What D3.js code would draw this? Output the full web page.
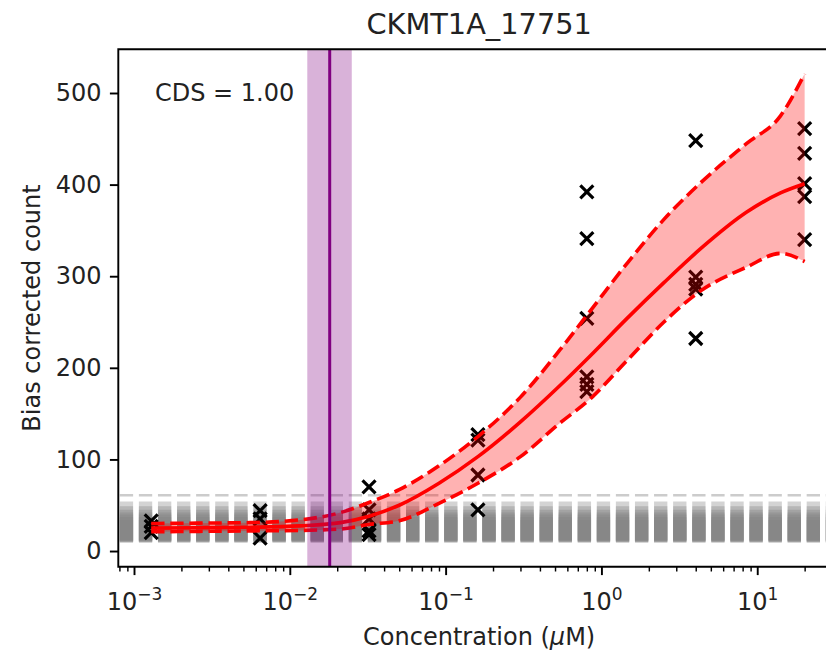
<!DOCTYPE html>
<html>
<head>
<meta charset="UTF-8">
<title>CKMT1A_17751</title>
<script src="https://cdn.jsdelivr.net/npm/d3@7"></script>
<style>
  body { margin: 0; background: #fff; }
  text { font-family: 'DejaVu Sans', sans-serif; }
</style>
</head>
<body>
<script>
  // measured points (concentration in uM, bias corrected count)
  const pointConc = [0.00128, 0.00128, 0.00128,
    0.0064, 0.0064, 0.0064,
    0.032, 0.032, 0.032, 0.032, 0.032,
    0.16, 0.16, 0.16, 0.16,
    0.8, 0.8, 0.8, 0.8, 0.8, 0.8,
    4, 4, 4, 4, 4,
    20, 20, 20, 20, 20]
  const pointCount = [33, 27, 20,
    44, 35, 14,
    70, 45, 35, 22, 18,
    127, 121, 83, 45,
    392, 341, 254, 190, 182, 174,
    448, 299, 291, 286, 232,
    461, 434, 401, 387, 340]

  // fitted curve and its band
  const fitConc = [0.00128, 0.0026, 0.0055, 0.0115, 0.021, 0.032, 0.05, 0.09, 0.16, 0.3, 0.54, 0.84, 1.45, 2.5, 4.3, 8.5, 14, 20]
  const fitMid  = [25, 25.5, 26, 27.5, 31, 38, 50, 74, 103, 141, 181, 213, 254, 293, 330, 370, 391, 401]
  const fitHigh = [30, 30.5, 31, 34, 42, 53, 67, 93, 125, 168, 220, 262, 314, 362, 402, 445, 475, 521]
  const fitLow  = [21, 21.5, 22, 22.5, 24, 29, 33, 52, 74, 103, 140, 166, 208, 250, 284, 310, 325, 316]

  // background noise quantile bands
  const noiseLow  = [9, 9.5, 10, 10.5, 11, 11.5, 12]
  const noiseHigh = [54, 49, 45, 42, 40, 37, 34]
  const noiseTop = 61

  // transition point
  const ec50 = 0.0179
  const ec50Low = 0.01285
  const ec50High = 0.0248

  const yTicks = [0, 100, 200, 300, 400, 500]
  const xTicks = [1e-3, 1e-2, 1e-1, 1, 10]

  const width = 826, height = 651
  const margin = { top: 49.3, right: -14, bottom: 84.3, left: 118.3 }
  const pt = 2.4

  const svg = d3.select('body').append('svg').attr('width', width).attr('height', height)

  const x = d3.scaleLog()
    .domain([Math.pow(10, -3.104), Math.pow(10, 1.528)])
    .range([margin.left, width - margin.right])
  const y = d3.scaleLinear()
    .domain([-17.1, 547.7])
    .range([height - margin.bottom, margin.top])

  const plot = svg.append('g')

  // noise columns (dashed lines, default matplotlib dash pattern)
  const dash = `${3.7 * 1.5 * pt},${1.6 * 1.5 * pt}`
  plot.append('g').selectAll('line')
    .data(noiseLow)
    .join('line')
    .attr('x1', margin.left + 1.5).attr('x2', width - margin.right)
    .attr('y1', (d, i) => (y(d) + y(noiseHigh[i])) / 2)
    .attr('y2', (d, i) => (y(d) + y(noiseHigh[i])) / 2)
    .attr('stroke', 'gray').attr('stroke-opacity', 0.35)
    .attr('stroke-width', (d, i) => y(d) - y(noiseHigh[i]))
    .attr('stroke-dasharray', dash)
  plot.append('line')
    .attr('x1', margin.left + 1.5).attr('x2', width - margin.right)
    .attr('y1', y(noiseTop)).attr('y2', y(noiseTop))
    .attr('stroke', 'gray').attr('stroke-opacity', 0.4)
    .attr('stroke-width', 2.5)
    .attr('stroke-dasharray', dash)

  // points
  const pts = pointConc.map((c, i) => [c, pointCount[i]])
  plot.append('g').selectAll('path')
    .data(pts)
    .join('path')
    .attr('d', d => {
      const px = x(d[0]), py = y(d[1]), r = 6.5
      return `M${px - r},${py - r}L${px + r},${py + r}M${px - r},${py + r}L${px + r},${py - r}`
    })
    .attr('stroke', '#000').attr('stroke-width', 3.2)

  // fit band
  const fit = fitConc.map((c, i) => ({ c, mid: fitMid[i], lo: fitLow[i], hi: fitHigh[i] }))
  plot.append('path')
    .datum(fit)
    .attr('d', d3.area().x(d => x(d.c)).y0(d => y(d.lo)).y1(d => y(d.hi)).curve(d3.curveMonotoneX))
    .attr('fill', 'red').attr('fill-opacity', 0.3)
  const line = key => d3.line().x(d => x(d.c)).y(d => y(d[key])).curve(d3.curveMonotoneX)
  plot.append('path').datum(fit).attr('d', line('hi'))
    .attr('fill', 'none').attr('stroke', 'red').attr('stroke-width', 1.5 * pt).attr('stroke-dasharray', dash)
  plot.append('path').datum(fit).attr('d', line('lo'))
    .attr('fill', 'none').attr('stroke', 'red').attr('stroke-width', 1.5 * pt).attr('stroke-dasharray', dash)
  plot.append('path').datum(fit).attr('d', line('mid'))
    .attr('fill', 'none').attr('stroke', 'red').attr('stroke-width', 1.5 * pt)

  // transition band
  plot.append('rect')
    .attr('x', x(ec50Low)).attr('width', x(ec50High) - x(ec50Low))
    .attr('y', margin.top).attr('height', height - margin.bottom - margin.top)
    .attr('fill', 'purple').attr('fill-opacity', 0.3)
  plot.append('line')
    .attr('x1', x(ec50)).attr('x2', x(ec50))
    .attr('y1', margin.top).attr('y2', height - margin.bottom)
    .attr('stroke', 'purple').attr('stroke-width', 3)

  // axes
  const yAxis = g => g
    .attr('transform', `translate(${margin.left},0)`)
    .call(d3.axisLeft(y).tickValues(yTicks).tickSize(3.5 * pt).tickPadding(3.5 * pt))
    .call(g => g.select('.domain').remove())
    .call(g => g.selectAll('line').attr('stroke-width', 0.8 * pt))
    .call(g => g.selectAll('text').style('font-size', '24px').attr('fill', '#222'))
  svg.append('g').call(yAxis)

  const minorTicks = []
  for (let e = -4; e <= 1; e++) {
    for (let k = 2; k <= 9; k++) minorTicks.push(k * Math.pow(10, e))
  }
  const xAxis = g => g
    .attr('transform', `translate(0,${height - margin.bottom})`)
    .call(d3.axisBottom(x).tickValues(minorTicks.filter(v => v > x.domain()[0] && v < x.domain()[1])).tickSize(2 * pt).tickFormat(''))
    .call(g => g.select('.domain').remove())
    .call(g => g.selectAll('line').attr('stroke-width', 0.6 * pt))
  svg.append('g').call(xAxis)

  const xMajor = svg.append('g')
    .attr('transform', `translate(0,${height - margin.bottom})`)
    .selectAll('g').data(xTicks).join('g')
    .attr('transform', d => `translate(${x(d)},0)`)
  xMajor.append('line').attr('y2', 3.5 * pt).attr('stroke', '#000').attr('stroke-width', 0.8 * pt)
  const xLab = xMajor.append('text')
    .attr('y', 43).attr('text-anchor', 'middle')
    .style('font-size', '24px').attr('fill', '#222')
  xLab.append('tspan').text('10')
  xLab.append('tspan').text(d => String(Math.round(Math.log10(d))).replace('-', '\u2212'))
    .attr('dy', -10).style('font-size', '17px')

  // spines
  svg.append('path')
    .attr('d', `M${width - margin.right},${margin.top}H${margin.left}V${height - margin.bottom}H${width - margin.right}`)
    .attr('fill', 'none').attr('stroke', '#000').attr('stroke-width', 0.8 * pt)

  // texts
  svg.append('text')
    .attr('x', (margin.left + width - margin.right) / 2).attr('y', 34)
    .attr('text-anchor', 'middle').style('font-size', '28.8px').attr('fill', '#222')
    .text('CKMT1A_17751')

  svg.append('text')
    .attr('x', 155).attr('y', 101)
    .style('font-size', '24px').attr('fill', '#222')
    .text('CDS = 1.00')

  svg.append('text')
    .attr('transform', `translate(40,${(margin.top + height - margin.bottom) / 2}) rotate(-90)`)
    .attr('text-anchor', 'middle').style('font-size', '24px').attr('fill', '#222')
    .text('Bias corrected count')

  const xTitle = svg.append('text')
    .attr('x', (margin.left + width - margin.right) / 2).attr('y', 644.5)
    .attr('text-anchor', 'middle').style('font-size', '24px').attr('fill', '#222')
  xTitle.append('tspan').text('Concentration (')
  xTitle.append('tspan').text('\u03bc').style('font-style', 'italic')
  xTitle.append('tspan').text('M)')
</script>
</body>
</html>
